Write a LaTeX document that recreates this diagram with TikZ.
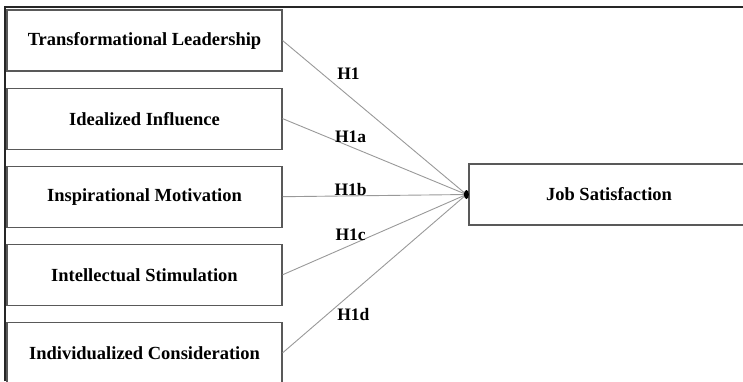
\documentclass[tikz,border=0pt]{standalone}
\usepackage{fontspec}
\setmainfont{Liberation Serif}
\usetikzlibrary{positioning}
\usetikzlibrary{shapes.geometric}

\begin{document}
\begin{tikzpicture}[x=1pt,y=1pt,
  factor/.style={draw=black!65,line width=1.1pt,minimum width=275pt,minimum height=61pt,inner sep=0pt,font=\fontsize{18.5}{20}\selectfont\bfseries},
  hyp/.style={text=black,font=\fontsize{17.5}{19}\selectfont\bfseries,inner sep=1pt},
  link/.style={draw=black!40,line width=0.9pt},
  hub/.style={ellipse,fill=black,minimum width=5pt,minimum height=9pt,inner sep=0pt}]
\useasboundingbox (0,0) rectangle (743,-381);
\draw[line width=1.8pt,black!85] (5,-381) -- (5,-7) -- (743,-7);
\node[factor] (tl) at (144.5,-40.5) {Transformational Leadership};
\node[factor,below=16pt of tl] (ii) {Idealized Influence};
\node[factor,below=16pt of ii] (im) {Inspirational Motivation};
\node[factor,below=16pt of im] (is) {Intellectual Stimulation};
\node[factor,below=16pt of is] (ic) {Individualized Consideration};
\node[factor,minimum width=280pt] (js) at (609,-194.5) {Job Satisfaction};
\coordinate (dot) at ([xshift=-2pt]js.west);
\path (tl.east) edge[link] node[hyp,pos=.29,anchor=south west,yshift=4pt] {H1} (dot)
  (ii.east) edge[link] node[hyp,pos=.37,anchor=south,yshift=3pt] {H1a} (dot)
  (im.east) edge[link] node[hyp,pos=.37,anchor=south,yshift=-1pt] {H1b} (dot)
  (is.east) edge[link] node[hyp,pos=.37,anchor=south,yshift=3pt] {H1c} (dot)
  (ic.east) edge[link] node[hyp,pos=.29,anchor=north west] {H1d} (dot);
\node[hub] (tip) at (dot) {};
\end{tikzpicture}
\end{document}
